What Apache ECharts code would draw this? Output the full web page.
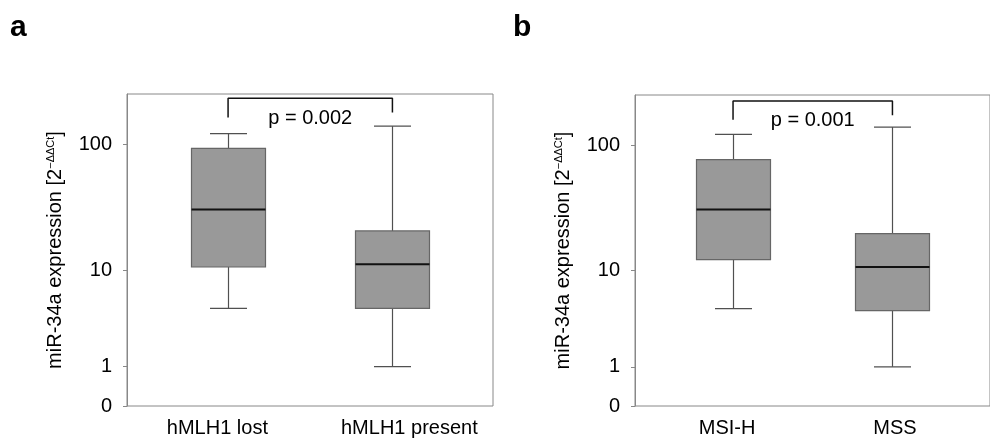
<!DOCTYPE html>
<html>
<head>
<meta charset="utf-8">
<script src="https://cdn.jsdelivr.net/npm/echarts@6/dist/echarts.min.js"></script>
<style>
  html, body { margin: 0; padding: 0; background: #fff; }
  #chart { width: 990px; height: 438px; }
</style>
</head>
<body>
<div id="chart"></div>
<script>
// values, in 2^-ddCt units
const groupsA = ["hMLH1 lost", "hMLH1 present"];
const groupsB = ["MSI-H", "MSS"];
// [whisker low, q1, median, q3, whisker high]
const boxesA = [
  [4.6, 10.6, 31, 93, 121],
  [1.0, 4.6, 11.2, 20.9, 138]
];
const boxesB = [
  [4.6, 12.3, 31.3, 77, 121],
  [1.0, 4.4, 10.7, 20.1, 138]
];
const yTicks = [0, 1, 10, 100];
const yMax = 244;
const pTexts = ["p = 0.002", "p = 0.001"];
// bracket [top, left leg end, right leg end]
const bracketA = [226, 161, 176];
const bracketB = [219, 157, 170];
const pLevel = [158, 154];
// where the category names sit along x (boxes are at 1 and 2)
const labelPosA = [0.935, 2.103];
const labelPosB = [0.963, 2.016];

// the y scale is log10(v + 1), so 0 fits on it
const t = (v) => Math.log10(v + 1);

const chart = echarts.init(document.getElementById("chart"));

const FONT = "Liberation Sans";
const TXT = "#000000";

function renderBox(params, api) {
  const x = api.value(0);
  const lo = api.coord([x, api.value(1)]);
  const q1 = api.coord([x, api.value(2)]);
  const md = api.coord([x, api.value(3)]);
  const q3 = api.coord([x, api.value(4)]);
  const hi = api.coord([x, api.value(5)]);
  const cx = Math.round(lo[0]) + 0.5;
  const bw = 74, cw = 37;
  const ws = { stroke: "#505050", lineWidth: 1.2 };
  return {
    type: "group",
    children: [
      { type: "line", shape: { x1: cx, y1: hi[1], x2: cx, y2: lo[1] }, style: ws },
      { type: "line", shape: { x1: cx - cw / 2, y1: hi[1], x2: cx + cw / 2, y2: hi[1] }, style: ws },
      { type: "line", shape: { x1: cx - cw / 2, y1: lo[1], x2: cx + cw / 2, y2: lo[1] }, style: ws },
      {
        type: "rect",
        shape: { x: cx - bw / 2, y: q3[1], width: bw, height: q1[1] - q3[1] },
        style: { fill: "#999999", stroke: "#666666", lineWidth: 1.2 }
      },
      { type: "line", shape: { x1: cx - bw / 2, y1: md[1], x2: cx + bw / 2, y2: md[1] }, style: { stroke: "#111111", lineWidth: 2 } }
    ]
  };
}

function nearest(list, v) {
  let best = 0;
  list.forEach((p, i) => { if (Math.abs(p - v) < Math.abs(list[best] - v)) best = i; });
  return best;
}

const yTickPos = yTicks.map(t);

function xAxisFor(idx, names, pos) {
  return {
    type: "value",
    gridIndex: idx,
    min: 0.385,
    max: 2.612,
    axisLine: { show: false },
    axisTick: { show: false },
    splitLine: { show: false },
    axisLabel: {
      customValues: pos,
      formatter: (v) => names[nearest(pos, v)],
      fontFamily: FONT,
      fontSize: 20,
      color: TXT,
      margin: 12
    }
  };
}

function yAxisFor(idx) {
  return {
    type: "value",
    gridIndex: idx,
    min: 0,
    max: t(yMax),
    splitLine: { show: false },
    axisLine: { show: true, lineStyle: { color: "#888888", width: 1 } },
    axisTick: { show: true, length: 4, customValues: yTickPos, lineStyle: { color: "#888888" } },
    axisLabel: {
      customValues: yTickPos,
      formatter: (v) => String(yTicks[nearest(yTickPos, v)]),
      fontFamily: FONT,
      fontSize: 20,
      color: TXT,
      margin: 15
    },
    name: "miR-34a expression [2{sup|−ΔΔCt}]",
    nameLocation: "middle",
    nameGap: 62,
    nameTextStyle: {
      fontFamily: FONT,
      fontSize: 20,
      color: TXT,
      rich: {
        sup: { fontFamily: FONT, fontSize: 11, color: TXT, verticalAlign: "top" }
      }
    }
  };
}

function panelSeries(idx, boxes, bracket, pText, pY) {
  return [
    {
      type: "custom",
      xAxisIndex: idx,
      yAxisIndex: idx,
      renderItem: renderBox,
      encode: { x: 0, y: [1, 2, 3, 4, 5] },
      data: boxes.map((b, i) => [i + 1].concat(b.map(t))),
      silent: true,
      z: 3
    },
    {
      type: "line",
      xAxisIndex: idx,
      yAxisIndex: idx,
      symbol: "none",
      silent: true,
      lineStyle: { color: "#111111", width: 1.5 },
      data: [[1, t(bracket[1])], [1, t(bracket[0])], [2, t(bracket[0])], [2, t(bracket[2])]],
      z: 4
    },
    {
      type: "scatter",
      xAxisIndex: idx,
      yAxisIndex: idx,
      symbolSize: 0,
      silent: true,
      itemStyle: { opacity: 1 },
      data: [[1.5, t(pY)]],
      label: {
        show: true,
        position: "inside",
        formatter: pText,
        fontFamily: FONT,
        fontSize: 20,
        color: TXT,
        opacity: 1,
        textBorderWidth: 0
      }
    }
  ];
}

const option = {
  animation: false,
  backgroundColor: "#ffffff",
  grid: [
    { left: 127, top: 94, width: 366, height: 312, show: true, borderColor: "#888888", borderWidth: 1 },
    { left: 635, top: 95, width: 366, height: 311, show: true, borderColor: "#888888", borderWidth: 1 }
  ],
  xAxis: [xAxisFor(0, groupsA, labelPosA), xAxisFor(1, groupsB, labelPosB)],
  yAxis: [yAxisFor(0), yAxisFor(1)],
  graphic: [
    { type: "text", x: 10, y: 28, style: { text: "a", font: "bold 30px Liberation Sans", fill: "#000", verticalAlign: "middle" } },
    { type: "text", x: 513, y: 28, style: { text: "b", font: "bold 30px Liberation Sans", fill: "#000", verticalAlign: "middle" } }
  ],
  series: []
    .concat(panelSeries(0, boxesA, bracketA, pTexts[0], pLevel[0]))
    .concat(panelSeries(1, boxesB, bracketB, pTexts[1], pLevel[1]))
};

chart.setOption(option);
</script>
</body>
</html>
